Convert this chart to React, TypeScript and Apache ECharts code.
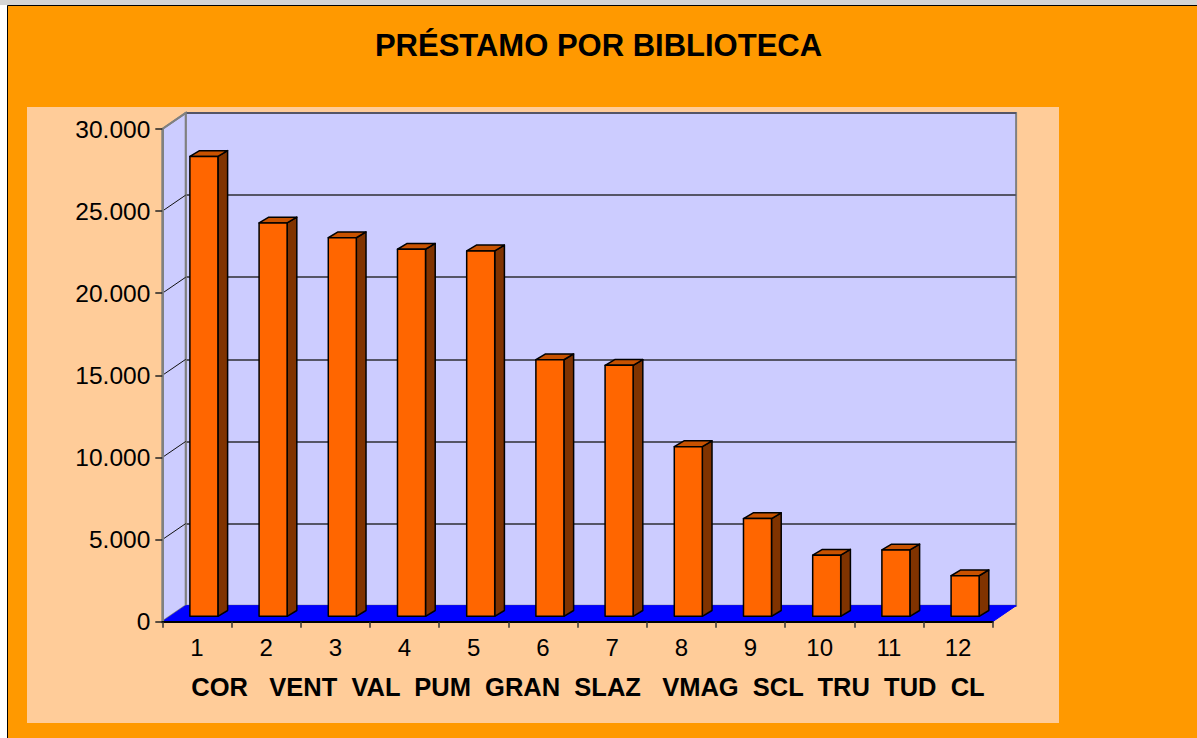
import React, { useEffect, useRef } from "react";
import * as echarts from "echarts";

const categories = ["1", "2", "3", "4", "5", "6", "7", "8", "9", "10", "11", "12"];
const libraryNames = ["COR", "VENT", "VAL", "PUM", "GRAN", "SLAZ", "VMAG", "SCL", "TRU", "TUD", "CL"];
const loans = [28000, 23950, 23050, 22350, 22250, 15620, 15280, 10330, 5950, 3720, 4040, 2470];
const yTicks = [0, 5000, 10000, 15000, 20000, 25000, 30000];
const titleText = "PRÉSTAMO POR BIBLIOTECA";

const FONT = "'Liberation Sans', Arial, Helvetica, sans-serif";
const WALL_DX = 23.4;
const WALL_DY = 16;
const BAR_SHIFT_X = 7;
const BAR_SHIFT_Y = 5.4;
const BAR_DX = 9.7;
const BAR_DY = 5.8;

const namesLine =
  libraryNames[0] + "   " + libraryNames.slice(1, 6).join("  ") + "   " + libraryNames.slice(6).join("  ");

function fmt(v: number): string {
  if (v === 0) return "0";
  return String(v).replace(/\B(?=(\d{3})+(?!\d))/g, ".");
}

export default function App() {
  const ref = useRef<HTMLDivElement>(null);
  useEffect(() => {
    if (!ref.current) return;
    const chart = echarts.init(ref.current, null, { renderer: "svg" });
    const yMax = yTicks[yTicks.length - 1];

    const option: any = {
      animation: false,
      backgroundColor: "#FFFFFF",
      graphic: [
        { type: "rect", z: -10, shape: { x: 0, y: 0, width: 1197, height: 5 }, style: { fill: "#D4D4D4" } },
        {
          type: "rect",
          z: -9,
          shape: { x: 7.5, y: 5.5, width: 1200, height: 740 },
          style: { fill: "#FF9900", stroke: "#000000", lineWidth: 1 },
        },
        { type: "rect", z: -8, shape: { x: 27, y: 107, width: 1032, height: 616 }, style: { fill: "#FFCC99" } },
      ],
      title: {
        text: titleText,
        left: "center",
        top: 30,
        padding: [0, 0, 0, 10],
        textStyle: { fontFamily: FONT, fontSize: 31, fontWeight: "bold", color: "#000" },
      },
      grid: [
        { left: 162.3, top: 129, width: 830.4, height: 492.7, show: false },
        {
          left: 185.7,
          top: 113,
          width: 830.4,
          height: 492.7,
          show: true,
          backgroundColor: "#CCCCFF",
          borderColor: "#808080",
          borderWidth: 2,
        },
      ],
      xAxis: [
        {
          type: "category",
          gridIndex: 0,
          data: categories,
          z: 10,
          axisLine: { show: true, lineStyle: { color: "#000", width: 2 } },
          axisTick: { show: true, length: 6, lineStyle: { color: "#333", width: 1.5 } },
          axisLabel: { fontFamily: FONT, fontSize: 24, color: "#000", margin: 14 },
          name: namesLine,
          nameLocation: "middle",
          nameGap: 52,
          nameTextStyle: { fontFamily: FONT, fontSize: 25.5, fontWeight: "bold", color: "#000", padding: [0, 0, 0, 21] },
        },
        {
          type: "category",
          gridIndex: 1,
          data: categories,
          show: false,
        },
      ],
      yAxis: [
        {
          type: "value",
          gridIndex: 0,
          min: 0,
          max: yMax,
          interval: 5000,
          z: 10,
          axisLine: { show: true, lineStyle: { color: "#808080", width: 2 } },
          axisTick: { show: true, length: 7, lineStyle: { color: "#222", width: 1.5 } },
          axisLabel: { fontFamily: FONT, fontSize: 24.5, color: "#000", margin: 12, formatter: fmt },
          splitLine: { show: false },
        },
        {
          type: "value",
          gridIndex: 1,
          min: 0,
          max: yMax,
          interval: 5000,
          axisLine: { show: false },
          axisTick: { show: false },
          axisLabel: { show: false },
          splitLine: { show: true, lineStyle: { color: "#555566", width: 2 } },
        },
      ],
      series: [
        {
          type: "custom",
          name: "walls",
          xAxisIndex: 0,
          yAxisIndex: 0,
          z: 2,
          silent: true,
          data: [[0, 0]],
          renderItem: (params: any, api: any) => {
            const catW = api.size([1, 0])[0];
            const p0 = api.coord([0, 0]);
            const pT = api.coord([0, yMax]);
            const pR = api.coord([categories.length - 1, 0]);
            const left = p0[0] - catW / 2;
            const right = pR[0] + catW / 2;
            const bottom = p0[1];
            const top = pT[1];
            const children: any[] = [
              {
                type: "polygon",
                shape: {
                  points: [
                    [left, top],
                    [left + WALL_DX, top - WALL_DY],
                    [left + WALL_DX, bottom - WALL_DY],
                    [left, bottom],
                  ],
                },
                style: { fill: "#CCCCFF", stroke: "#808080", lineWidth: 2 },
              },
            ];
            yTicks.forEach((v) => {
              if (v === 0) return;
              const y = api.coord([0, v])[1];
              children.push({
                type: "line",
                shape: { x1: left, y1: y, x2: left + WALL_DX, y2: y - WALL_DY },
                style: { stroke: v === yMax ? "#808080" : "#111", lineWidth: v === yMax ? 2 : 1 },
              });
            });
            children.push({
              type: "polygon",
              shape: {
                points: [
                  [left, bottom],
                  [left + WALL_DX, bottom - WALL_DY],
                  [right + WALL_DX, bottom - WALL_DY],
                  [right, bottom],
                ],
              },
              style: { fill: "#0000FF", stroke: "#0000FF", lineWidth: 1 },
            });
            return { type: "group", children };
          },
        },
        {
          type: "custom",
          name: "Préstamo",
          xAxisIndex: 0,
          yAxisIndex: 0,
          z: 3,
          data: loans.map((v, i) => [i, v]),
          renderItem: (params: any, api: any) => {
            const idx = api.value(0);
            const val = api.value(1);
            const base = api.coord([idx, 0]);
            const topP = api.coord([idx, val]);
            const w = api.size([1, 0])[0] * 0.405;
            const cx = base[0] + BAR_SHIFT_X;
            const by = base[1] - BAR_SHIFT_Y;
            const ty = topP[1] - BAR_SHIFT_Y;
            const xl = cx - w / 2;
            const xr = cx + w / 2;
            const stroke = { stroke: "#000", lineWidth: 1.5, lineJoin: "round" };
            return {
              type: "group",
              children: [
                {
                  type: "polygon",
                  shape: {
                    points: [
                      [xr, ty],
                      [xr + BAR_DX, ty - BAR_DY],
                      [xr + BAR_DX, by - BAR_DY],
                      [xr, by],
                    ],
                  },
                  style: { fill: "#803300", ...stroke },
                },
                {
                  type: "polygon",
                  shape: {
                    points: [
                      [xl, ty],
                      [xl + BAR_DX, ty - BAR_DY],
                      [xr + BAR_DX, ty - BAR_DY],
                      [xr, ty],
                    ],
                  },
                  style: { fill: "#C85200", ...stroke },
                },
                {
                  type: "rect",
                  shape: { x: xl, y: ty, width: w, height: by - ty },
                  style: { fill: "#FF6600", ...stroke },
                },
              ],
            };
          },
        },
      ],
    };
    chart.setOption(option);
    return () => chart.dispose();
  }, []);

  return (
    <div
      ref={ref}
      style={{ position: "absolute", left: 0, top: 0, width: 1197, height: 738 }}
    />
  );
}
